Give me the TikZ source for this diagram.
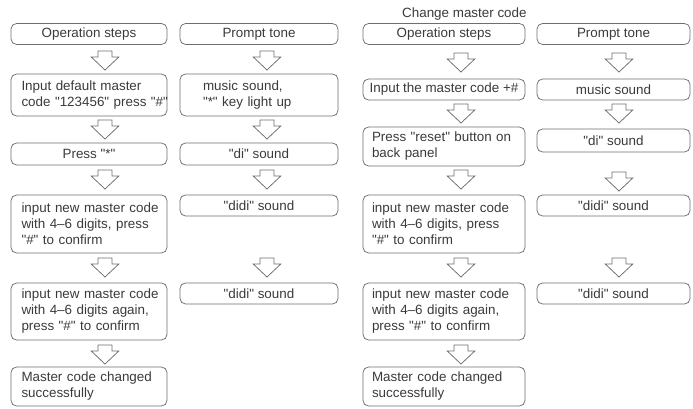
\documentclass[tikz,border=0pt]{standalone}
\usepackage{fontspec}
\setmainfont{Liberation Sans}[Ligatures=TeXOff]
\definecolor{boxgray}{HTML}{6E6E6E}
\definecolor{txtgray}{HTML}{3A3A3A}
\tikzset{
  box/.style={draw=boxgray, line width=0.75pt, rounded corners=5.5pt, inner sep=0pt, text=txtgray, font=\fontsize{13.4}{16}\selectfont},
  cbox/.style={box, align=center},
  lbox/.style={box, align=left, inner xsep=#1},
  arr/.style={draw=boxgray, line width=0.75pt, line join=miter},
  ttl/.style={text=txtgray, font=\fontsize{13.4}{16}\selectfont, inner sep=0pt, anchor=west}
}
\newcommand\blockarrow[2]{\draw[arr] ({#1-7},#2) -- ({#1+7},#2) -- ({#1+7},{#2+6}) -- ({#1+13.8},{#2+6}) -- (#1,{#2+19}) -- ({#1-13.8},{#2+6}) -- ({#1-7},{#2+6}) -- cycle;}
\begin{document}
\begin{tikzpicture}[x=1pt,y=-1pt]
\useasboundingbox (0,0) rectangle (693,409);
% ---------- left half ----------
\node[cbox, minimum width=156pt, minimum height=21pt] (l1) at (89,34) {Operation steps};
\node[lbox=10.5pt, text width=135pt, minimum height=42pt] (l2) at (89,95) {\mbox{Input default master}\\\mbox{code "123456" press "\#"}};
\node[cbox, minimum width=156pt, minimum height=22pt] (l3) at (89,154) {Press "*"};
\node[lbox=10.5pt, text width=135pt, minimum height=58pt] (l4) at (89,224) {\mbox{input new master code}\\\mbox{with 4–6 digits, press}\\\mbox{"\#" to confirm}};
\node[lbox=10.5pt, text width=135pt, minimum height=57pt] (l5) at (89,311.5) {\mbox{input new master code}\\\mbox{with 4–6 digits again,}\\\mbox{press "\#" to confirm}};
\node[lbox=10.5pt, text width=135pt, minimum height=39pt] (l6) at (89,386.5) {\mbox{Master code changed}\\\mbox{successfully}};

\node[cbox, minimum width=158pt, minimum height=21pt] (r1) at (259,34) {Prompt tone};
\node[lbox=23pt, text width=112pt, minimum height=42pt] (r2) at (259,95) {\mbox{music sound,}\\\mbox{"*" key light up}};
\node[cbox, minimum width=158pt, minimum height=22pt] (r3) at (259,154) {"di" sound};
\node[cbox, minimum width=158pt, minimum height=21pt] (r4) at (259,205.5) {"didi" sound};
\node[cbox, minimum width=158pt, minimum height=21pt] (r5) at (259,293.5) {"didi" sound};

\blockarrow{105}{51}
\blockarrow{105}{120}
\blockarrow{105}{170}
\blockarrow{105}{258}
\blockarrow{105}{345}
\blockarrow{267}{51}
\blockarrow{267}{120}
\blockarrow{267}{170}
\blockarrow{267}{258}

% ---------- right half ----------
\node[ttl] (title) at (402,14) {Change master code};
\node[cbox, minimum width=162pt, minimum height=21pt] (a1) at (444,34) {Operation steps};
\node[cbox, minimum width=162pt, minimum height=21pt] (a2) at (444,89.5) {Input the master code +\#};
\node[lbox=9pt, text width=144pt, minimum height=39pt] (a3) at (444,146.5) {\mbox{Press "reset" button on}\\\mbox{back panel}};
\node[lbox=9pt, text width=144pt, minimum height=58pt] (a4) at (444,224) {\mbox{input new master code}\\\mbox{with 4–6 digits, press}\\\mbox{"\#" to confirm}};
\node[lbox=9pt, text width=144pt, minimum height=57pt] (a5) at (444,311.5) {\mbox{input new master code}\\\mbox{with 4–6 digits again,}\\\mbox{press "\#" to confirm}};
\node[lbox=9pt, text width=144pt, minimum height=39pt] (a6) at (444,386.5) {\mbox{Master code changed}\\\mbox{successfully}};

\node[cbox, minimum width=153pt, minimum height=21pt] (b1) at (613.5,34) {Prompt tone};
\node[cbox, minimum width=153pt, minimum height=21pt] (b2) at (613.5,89.5) {music sound};
\node[cbox, minimum width=153pt, minimum height=23pt] (b3) at (613.5,140.5) {"di" sound};
\node[cbox, minimum width=153pt, minimum height=21pt] (b4) at (613.5,205.5) {"didi" sound};
\node[cbox, minimum width=153pt, minimum height=21pt] (b5) at (613.5,293.5) {"didi" sound};

\blockarrow{461}{53}
\blockarrow{461}{104}
\blockarrow{461}{170}
\blockarrow{461}{258}
\blockarrow{461}{345}
\blockarrow{619}{53}
\blockarrow{619}{104}
\blockarrow{619}{172}
\blockarrow{619}{258}
\end{tikzpicture}
\end{document}
